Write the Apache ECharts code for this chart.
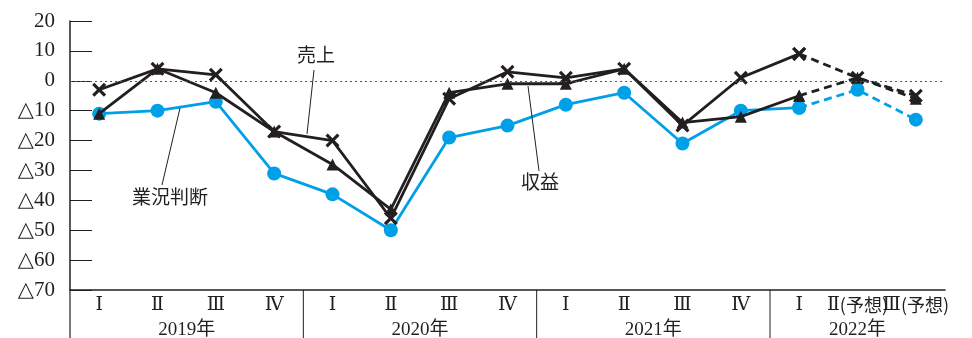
<!DOCTYPE html>
<html>
<head>
<meta charset="utf-8">
<script src="https://cdn.jsdelivr.net/npm/echarts@6/dist/echarts.min.js"></script>
<style>
html, body { margin: 0; padding: 0; background: #fff; }
#chart { width: 972px; height: 338px; }
</style>
</head>
<body>
<div id="chart"></div>
<script>
// 四半期ラベル
var quarters = ['Ⅰ', 'Ⅱ', 'Ⅲ', 'Ⅳ', 'Ⅰ', 'Ⅱ', 'Ⅲ', 'Ⅳ', 'Ⅰ', 'Ⅱ', 'Ⅲ', 'Ⅳ', 'Ⅰ', 'Ⅱ(予想)', 'Ⅲ(予想)'];
var years = ['2019年', '2020年', '2021年', '2022年'];
var yearFirst = [0, 4, 8, 12];
var yearLast = [3, 7, 11, 14];

// 系列データ
var sales = [-3, 4, 2, -17, -20, -46, -6, 3, 1, 4, -15, 1, 9, 1, -5];
var profit = [-11, 4, -4, -17, -28, -43, -4, -1, -1, 4, -14, -12, -5, 1, -6];
var business = [-11, -10, -7, -31, -38, -50, -19, -15, -8, -4, -21, -10, -9, -3, -13];
var forecastFrom = 12; // ここから先は予想（破線）

var yTicks = { min: -70, max: 20, interval: 10 };

var BLACK = '#231f20';
var BLUE = '#00a0e9';
var SERIF = '"Liberation Serif", "DejaVu Serif", "Noto Sans CJK JP", serif';
var CROSS = 'path://M0,1.6L1.6,0L5,3.4L8.4,0L10,1.6L6.6,5L10,8.4L8.4,10L5,6.6L1.6,10L0,8.4L3.4,5Z';

function solidPart(arr) {
    return arr.map(function (v, i) { return i <= forecastFrom ? v : '-'; });
}
function dashedPart(arr) {
    return arr.map(function (v, i) { return i >= forecastFrom ? v : '-'; });
}

function makeSeries(name, arr, color, symbol, size) {
    var base = {
        type: 'line',
        name: name,
        symbol: symbol,
        symbolSize: size,
        itemStyle: { color: color },
        z: name === 'business' ? 3 : 4,
        animation: false
    };
    return [
        Object.assign({}, base, {
            data: solidPart(arr),
            lineStyle: { color: color, width: 2.8 }
        }),
        Object.assign({}, base, {
            data: dashedPart(arr),
            lineStyle: { color: color, width: 2.8, type: [8, 5] }
        })
    ];
}

var chart = echarts.init(document.getElementById('chart'));

var series = []
    .concat(makeSeries('business', business, BLUE, 'circle', 14))
    .concat(makeSeries('profit', profit, BLACK, 'triangle', 12))
    .concat(makeSeries('sales', sales, BLACK, CROSS, 14));

// ゼロの点線
series[0].markLine = {
    silent: true,
    symbol: 'none',
    label: { show: false },
    lineStyle: { color: '#555', type: [2, 3], width: 1 },
    data: [{ yAxis: 0 }]
};

var option = {
    animation: false,
    grid: { left: 70, right: 27, top: 21, bottom: 48 },
    xAxis: {
        type: 'category',
        data: quarters,
        boundaryGap: true,
        axisLine: { onZero: false, lineStyle: { color: BLACK, width: 1.5 } },
        axisTick: { inside: true, alignWithLabel: true, length: 6, lineStyle: { color: BLACK } },
        axisLabel: {
            interval: 0,
            color: BLACK,
            fontFamily: SERIF,
            fontSize: 19,
            margin: 6,
            formatter: function (v) {
                var k = v.indexOf('(');
                return k < 0 ? v : v.slice(0, k) + '{p|' + v.slice(k) + '}';
            },
            rich: {
                p: { fontFamily: '"Noto Sans CJK JP", sans-serif', fontSize: 18, color: BLACK }
            }
        },
        splitLine: { show: false }
    },
    yAxis: {
        type: 'value',
        min: yTicks.min,
        max: yTicks.max,
        interval: yTicks.interval,
        axisLine: { show: true, lineStyle: { color: BLACK, width: 1.5 } },
        axisTick: { show: true, inside: true, length: 22, lineStyle: { color: BLACK } },
        axisLabel: {
            color: BLACK,
            fontFamily: SERIF,
            fontSize: 21,
            margin: 15,
            formatter: function (v) { return v < 0 ? '△' + (-v) : String(v); }
        },
        splitLine: { show: false }
    },
    series: series
};
chart.setOption(option);

// 年ラベル・区切り線・注記
var xs = quarters.map(function (q, i) { return chart.convertToPixel({ xAxisIndex: 0 }, i); });
var y0 = chart.convertToPixel({ yAxisIndex: 0 }, yTicks.min);
var step = xs[1] - xs[0];
var graphics = [];

graphics.push({
    type: 'line', shape: { x1: xs[0] - step / 2, y1: y0, x2: xs[0] - step / 2, y2: 338 },
    style: { stroke: BLACK, lineWidth: 1.2 }
});
years.forEach(function (yr, k) {
    var cx = (xs[yearFirst[k]] + xs[yearLast[k]]) / 2;
    graphics.push({
        type: 'text', x: cx, y: y0 + 40,
        style: { text: yr, fill: BLACK, font: '19px ' + SERIF, align: 'center', verticalAlign: 'middle' }
    });
    if (k > 0) {
        var bx = xs[yearFirst[k]] - step / 2;
        graphics.push({
            type: 'line', shape: { x1: bx, y1: y0, x2: bx, y2: 338 },
            style: { stroke: BLACK, lineWidth: 1 }
        });
    }
});

var notes = [
    { text: '売上', x: 316, y: 57, lx1: 314, ly1: 70, lx2: 307, ly2: 134 },
    { text: '業況判断', x: 170, y: 199, lx1: 162, ly1: 185, lx2: 180, ly2: 108 },
    { text: '収益', x: 540, y: 184, lx1: 539, ly1: 171, lx2: 528, ly2: 86 }
];
notes.forEach(function (n) {
    graphics.push({
        type: 'text', x: n.x, y: n.y, z: 10,
        style: { text: n.text, fill: BLACK, font: '19px ' + SERIF, align: 'center', verticalAlign: 'middle' }
    });
    graphics.push({
        type: 'line', z: 10, shape: { x1: n.lx1, y1: n.ly1, x2: n.lx2, y2: n.ly2 },
        style: { stroke: BLACK, lineWidth: 1 }
    });
});

chart.setOption({ graphic: graphics });
</script>
</body>
</html>
